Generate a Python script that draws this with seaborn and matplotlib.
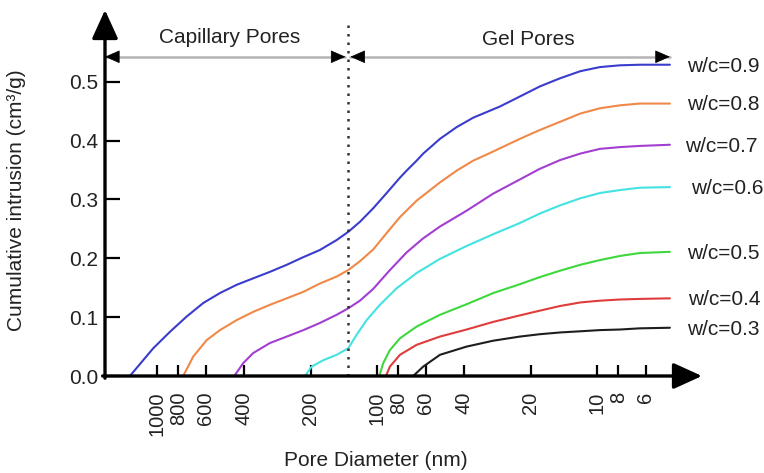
import matplotlib
matplotlib.use("Agg")
import matplotlib.pyplot as plt
from matplotlib.ticker import NullLocator
import pandas as pd
import seaborn as sns

# Cumulative intrusion curves, pore diameter in nm vs intrusion in cm3/g
mixes = ["w/c=0.9", "w/c=0.8", "w/c=0.7", "w/c=0.6", "w/c=0.5", "w/c=0.4", "w/c=0.3"]

d_09 = [1327, 1040, 873, 733, 616, 517, 434, 365, 306.5, 257, 216, 182, 152.5, 135,
        119.5, 104, 90.3, 78.6, 73.3, 66, 61.6, 51.7, 43.4, 36.5, 30.6, 27.6, 22.4,
        18.2, 14.7, 11.9, 9.69, 7.86, 6.38, 4.66]
v_09 = [0.0, 0.047, 0.075, 0.101, 0.124, 0.141, 0.155, 0.166, 0.177, 0.189, 0.202, 0.214,
        0.231, 0.245, 0.262, 0.285, 0.311, 0.337, 0.349, 0.366, 0.378, 0.403, 0.423,
        0.439, 0.451, 0.458, 0.475, 0.492, 0.506, 0.518, 0.525, 0.528, 0.529, 0.529]

d_08 = [759.5, 684, 594, 517, 434, 365, 306.5, 257, 216, 182, 152.5, 135, 119.5, 104,
        90.3, 78.6, 66, 51.7, 43.4, 36.5, 30.6, 27.6, 22.4, 18.2, 14.7, 11.9, 9.69,
        7.86, 6.38, 4.66]
v_08 = [0.0, 0.033, 0.061, 0.078, 0.095, 0.109, 0.121, 0.132, 0.143, 0.157, 0.169, 0.180,
        0.195, 0.215, 0.243, 0.270, 0.298, 0.329, 0.349, 0.366, 0.379, 0.387, 0.403,
        0.418, 0.432, 0.446, 0.455, 0.460, 0.463, 0.463]

d_07 = [445, 405, 365, 306.5, 257, 216, 182, 152.5, 135, 119.5, 104, 87.3, 73.3, 61.6,
        51.7, 39.1, 29.6, 22.4, 18.2, 14.7, 11.9, 9.69, 7.86, 6.38, 4.66]
v_07 = [0.0, 0.022, 0.039, 0.056, 0.067, 0.078, 0.090, 0.104, 0.115, 0.128, 0.148, 0.180,
        0.210, 0.234, 0.254, 0.281, 0.310, 0.334, 0.352, 0.367, 0.378, 0.386, 0.389,
        0.391, 0.393]

d_06 = [212.5, 198, 175, 152.5, 135, 123.7, 111.4, 96.9, 81.4, 66, 51.7, 39.1, 29.6,
        22.4, 18.2, 14.7, 11.9, 9.69, 7.86, 6.38, 4.66]
v_06 = [0.0, 0.016, 0.027, 0.036, 0.047, 0.070, 0.095, 0.121, 0.149, 0.175, 0.199, 0.221,
        0.241, 0.260, 0.276, 0.290, 0.302, 0.311, 0.316, 0.320, 0.321]

d_05 = [97.6, 93.6, 87.3, 78.6, 66, 51.7, 39.1, 29.6, 22.4, 18.2, 14.7, 11.9, 9.69,
        7.86, 6.38, 4.66]
v_05 = [0.0, 0.022, 0.044, 0.064, 0.084, 0.104, 0.122, 0.141, 0.156, 0.168, 0.179, 0.189,
        0.197, 0.204, 0.209, 0.211]

d_04 = [91, 87.3, 78.6, 66, 51.7, 39.1, 29.6, 22.4, 18.2, 14.7, 11.9, 9.69, 7.86, 6.38, 4.66]
v_04 = [0.0, 0.016, 0.036, 0.053, 0.067, 0.079, 0.092, 0.103, 0.111, 0.119, 0.125, 0.128,
        0.130, 0.131, 0.132]

d_03 = [68.4, 61.6, 51.7, 39.1, 29.6, 22.4, 18.2, 14.7, 11.9, 9.69, 7.86, 6.38, 4.66]
v_03 = [0.0, 0.016, 0.036, 0.050, 0.060, 0.067, 0.071, 0.074, 0.076, 0.078, 0.079, 0.081,
        0.082]

line_colors = ["#3a3ccc", "#f08848", "#a23ed2", "#44e2e2", "#3ed83e", "#e03c3c", "#1e1e1e"]

x_ticks = [1000, 800, 600, 400, 200, 100, 80, 60, 40, 20, 10, 8, 6]
x_tick_labels = ["1000", "800", "600", "400", "200", "100", "80", "60", "40", "20", "10", "8", "6"]
y_ticks = [0.0, 0.1, 0.2, 0.3, 0.4, 0.5]
y_tick_labels = ["0.0", "0.1", "0.2", "0.3", "0.4", "0.5"]

boundary_nm = 135.5  # capillary / gel pore boundary

sns.set_style("white")
plt.rcParams["font.family"] = ["Liberation Sans", "DejaVu Sans"]
text_color = "#222222"

fig = plt.figure(figsize=(7.64, 4.73), dpi=100)
W, H = 764, 473
ax = fig.add_axes([105 / W, (H - 376) / H, (702 - 105) / W, (376 - 10) / H])

series = [d_09, d_08, d_07, d_06, d_05, d_04, d_03]
values = [v_09, v_08, v_07, v_06, v_05, v_04, v_03]
frames = [pd.DataFrame({"diameter": d, "intrusion": v, "mix": m})
          for m, d, v in zip(mixes, series, values)]
df = pd.concat(frames, ignore_index=True)

sns.lineplot(data=df, x="diameter", y="intrusion", hue="mix", hue_order=mixes,
             palette=dict(zip(mixes, line_colors)), estimator=None, sort=True,
             linewidth=1.5, legend=False, ax=ax)
for line in ax.get_lines():
    line.set_solid_joinstyle("round")
    line.set_solid_capstyle("round")

ax.set_xscale("log")
ax.set_xlim(1722, 3.33)
ax.set_ylim(0, 0.622)
ax.xaxis.set_minor_locator(NullLocator())
ax.set_xticks(x_ticks)
ax.set_xticklabels(x_tick_labels, rotation=90)
ax.set_yticks(y_ticks)
ax.set_yticklabels(y_tick_labels)
ax.tick_params(axis="x", bottom=True, direction="in", length=8, width=1.6, pad=11,
               labelsize=14.5, colors=text_color, color="black")
ax.tick_params(axis="y", left=True, direction="in", length=11, width=1.6, pad=5,
               labelsize=15, colors=text_color, color="black")
ax.set_xlabel("")
ax.set_ylabel("")
for s in ax.spines.values():
    s.set_visible(False)

# Arrowed axes
axis_arrow = dict(arrowstyle="-|>,head_length=1.1,head_width=0.5", color="black",
                  lw=2.4, shrinkA=0, shrinkB=0, mutation_scale=16)
ax.annotate("", xy=(1, 0), xytext=(-0.004, 0), xycoords="axes fraction",
            arrowprops=axis_arrow, annotation_clip=False)
ax.annotate("", xy=(0, 1), xytext=(0, -0.006), xycoords="axes fraction",
            arrowprops=axis_arrow, annotation_clip=False)

# Boundary between capillary and gel pores
ax.plot([boundary_nm, boundary_nm], [0, 0.597], color="#333333", lw=1.8,
        ls=(0, (1.0, 2.4)), clip_on=False)

# Region arrows
y_arr = 0.5425
gray = "#b4b4b4"
left_end, right_cap, left_gel, right_gel = 1722, 139, 132, 4.66
ax.plot([left_end, right_cap], [y_arr, y_arr], color=gray, lw=1.8, clip_on=False)
ax.plot([left_gel, right_gel], [y_arr, y_arr], color=gray, lw=1.8, clip_on=False)
head = dict(arrowstyle="-|>,head_length=0.8,head_width=0.35", color="black",
            lw=0.5, shrinkA=0, shrinkB=0, mutation_scale=12)
for tip, tail in [(left_end, left_end * 0.93), (right_cap, right_cap * 1.07),
                  (left_gel, left_gel * 0.93), (right_gel, right_gel * 1.07)]:
    ax.annotate("", xy=(tip, y_arr), xytext=(tail, y_arr), arrowprops=head,
                annotation_clip=False)

ax.text(466, 0.575, "Capillary Pores", fontsize=15, color=text_color,
        ha="center", va="center")
ax.text(20.6, 0.572, "Gel Pores", fontsize=15, color=text_color,
        ha="center", va="center")

# Curve labels at the right end
label_offsets = [12, 12, 11, 15, 12, 13, 12]
for m, d, v, off in zip(mixes, series, values, label_offsets):
    ax.annotate(m, xy=(d[-1], v[-1]), xytext=(off, -1), textcoords="offset points",
                fontsize=15, color=text_color, ha="left", va="center",
                annotation_clip=False)

fig.text(376 / W, (H - 460) / H, "Pore Diameter (nm)", fontsize=15,
         color=text_color, ha="center", va="center")
fig.text(17 / W, (H - 200) / H, "Cumulative intrusion (cm³/g)", fontsize=15,
         color=text_color, ha="center", va="center", rotation=90)

fig.savefig("out.png", dpi=100)
